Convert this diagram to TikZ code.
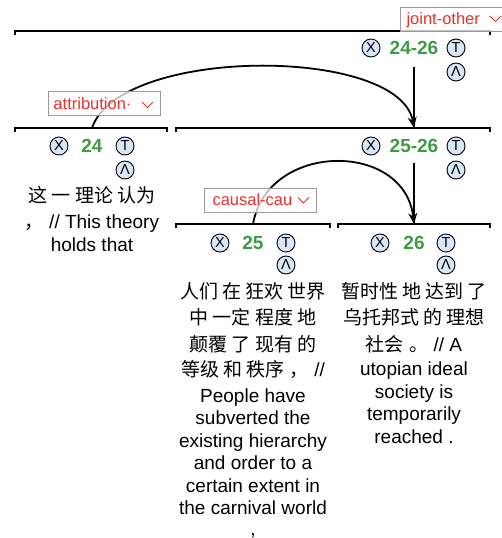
\documentclass[tikz,border=0pt]{standalone}
\usepackage{fontspec}
\setmainfont{Liberation Sans}
\newfontfamily\cjk{Noto Sans CJK SC}
\usetikzlibrary{arrows.meta}
\definecolor{btnblue}{HTML}{D8E7F7}
\definecolor{numgreen}{HTML}{3E9B43}
\definecolor{labred}{HTML}{E8322B}
\definecolor{labgray}{HTML}{9A9A9A}
\tikzset{
  btn/.style={circle, draw, line width=0.9pt, fill=btnblue, minimum size=18pt, inner sep=0pt, font=\fontsize{14.5}{14.5}\selectfont},
  num/.style={text=numgreen, font=\fontsize{19}{19}\selectfont\bfseries, inner sep=0pt},
  txt/.style={anchor=base, inner sep=0pt, font=\fontsize{19}{22}\selectfont},
  bracket/.style={line width=1.6pt},
  conn/.style={line width=1.8pt},
  labbox/.style={draw=labgray, line width=1pt, fill=white, fill opacity=0.75, text opacity=1, text=labred, font=\fontsize{16.5}{17}\selectfont, anchor=west, inner sep=0pt, minimum height=24pt, text depth=0pt},
  chev/.style={labred, line width=1pt}
}
\begin{document}
\begin{tikzpicture}[x=1pt,y=-1pt]
\useasboundingbox (0,0) rectangle (501,538);
% brackets
\draw[bracket] (15,35) -- (15,31) -- (490,31) -- (490,35);
\draw[bracket] (15,132) -- (15,128) -- (167,128) -- (167,132);
\draw[bracket] (176,132) -- (176,128) -- (490,128) -- (490,132);
\draw[bracket] (176,228) -- (176,224) -- (330,224) -- (330,228);
\draw[bracket] (338,228) -- (338,224) -- (490,224) -- (490,228);
\coordinate (top2426) at (414,67);
\coordinate (br24) at (92,128);
\coordinate (br2526) at (414,128);
\coordinate (top2526) at (414,163);
\coordinate (br25) at (253,224);
\coordinate (br26) at (414,224);
% node 24-26
\node[btn] (x2426) at (371,48) {X};
\node[num] (n2426) at (414,48) {24-26};
\node[btn] (t2426) at (456,48) {T};
\node[btn] (a2426) at (456,72) {Λ};
% node 24
\node[btn] (x24) at (59,146) {X};
\node[num] (n24) at (92,146) {24};
\node[btn] (t24) at (125,146) {T};
\node[btn] (a24) at (125,170) {Λ};
% node 25-26
\node[btn] (x2526) at (371,146) {X};
\node[num] (n2526) at (414,146) {25-26};
\node[btn] (t2526) at (456,146) {T};
\node[btn] (a2526) at (456,170) {Λ};
% node 25
\node[btn] (x25) at (220,243) {X};
\node[num] (n25) at (253,243) {25};
\node[btn] (t25) at (286,243) {T};
\node[btn] (a25) at (286,265) {Λ};
% node 26
\node[btn] (x26) at (380,243) {X};
\node[num] (n26) at (414,243) {26};
\node[btn] (t26) at (446,243) {T};
\node[btn] (a26) at (446,265) {Λ};
% connectors
\draw[conn] (top2426) -- (br2526);
\draw[conn,-{Stealth[length=11pt,width=9pt]}] (br24) .. controls (120,46) and (400,46) .. (br2526);
\draw[conn] (top2526) -- (br26);
\draw[conn,-{Stealth[length=11pt,width=9pt]}] (br25) .. controls (268,141) and (405,141) .. (br26);
% labels
\node[labbox, minimum width=112pt, text width=112pt, align=left] (lab1) at (48,103.5) {\hspace{5pt}attribution·};
\draw[chev] (142,102) -- (147.5,107.5) -- (153,102);
\node[labbox, minimum width=112pt, text width=112pt, align=left] (lab2) at (204,200) {\hspace{8pt}causal-cau};
\draw[chev] (298,197.5) -- (303.5,203) -- (309,197.5);
\node[labbox, minimum width=110pt, text width=110pt, align=left] (lab3) at (400,19) {\hspace{6pt}joint-other};
\draw[chev] (490,16) -- (495.5,21.5) -- (501,16);
% text 24
\node[txt] (t24l1) at (92,202.5) {{\cjk 这 一 理论 认为}};
\node[txt] (t24l2) at (92,228.5) {{\cjk ，}\ // This theory};
\node[txt] (t24l3) at (92,251.5) {holds that};
% text 25
\node[txt] (t25l1) at (253,298.5) {{\cjk 人们 在 狂欢 世界}};
\node[txt] (t25l2) at (253,324.5) {{\cjk 中 一定 程度 地}};
\node[txt] (t25l3) at (253,351) {{\cjk 颠覆 了 现有 的}};
\node[txt] (t25l4) at (253,376.5) {{\cjk 等级 和 秩序}\ {\cjk ，}\ //};
\node[txt] (t25l5) at (253,402.5) {People have};
\node[txt] (t25l6) at (253,424.5) {subverted the};
\node[txt] (t25l7) at (253,447.5) {existing hierarchy};
\node[txt] (t25l8) at (253,469.5) {and order to a};
\node[txt] (t25l9) at (253,492.5) {certain extent in};
\node[txt] (t25l10) at (253,514.5) {the carnival world};
\node[txt] (t25l11) at (253,535) {,};
% text 26
\node[txt] (t26l1) at (414,298.5) {{\cjk 暂时性 地 达到 了}};
\node[txt] (t26l2) at (414,324.5) {{\cjk 乌托邦式 的 理想}};
\node[txt] (t26l3) at (414,351) {{\cjk 社会}\ {\cjk 。}\ // A};
\node[txt] (t26l4) at (414,375.5) {utopian ideal};
\node[txt] (t26l5) at (414,398.5) {society is};
\node[txt] (t26l6) at (414,420.5) {temporarily};
\node[txt] (t26l7) at (414,443.5) {reached .};
\end{tikzpicture}
\end{document}
